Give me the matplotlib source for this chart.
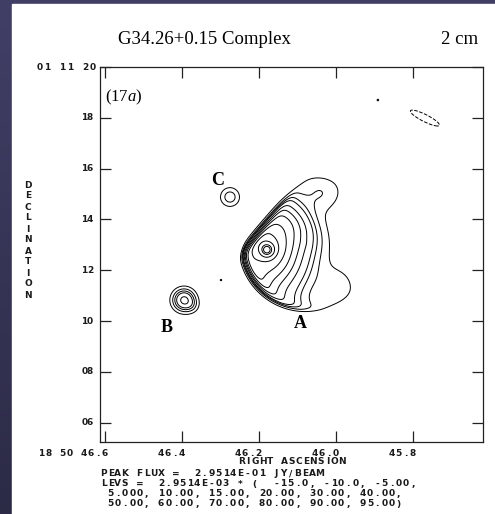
import numpy as np
import matplotlib.pyplot as plt
from matplotlib.colors import LinearSegmentedColormap
from matplotlib.patches import Rectangle
from matplotlib.transforms import offset_copy, blended_transform_factory

plt.rcParams["mathtext.fontset"] = "custom"
plt.rcParams["mathtext.rm"] = "Liberation Serif"
plt.rcParams["mathtext.it"] = "Liberation Serif:italic"

W, H = 495, 514

# map header values
peak_flux = 2.9514e-01
lev_unit = 2.9514e-03
levs = [-15.0, -10.0, -5.0, 5.0, 10.0, 15.0, 20.0, 30.0, 40.0, 50.0, 60.0, 70.0, 80.0, 90.0, 95.0]

ra_ticks = [46.6, 46.4, 46.2, 46.0, 45.8]
ra_labels = ["18 50 46.6", "46.4", "46.2", "46.0", "45.8"]
dec_ticks = [20, 18, 16, 14, 12, 10, 8, 6]
dec_labels = ["01 11 20", "18", "16", "14", "12", "10", "08", "06"]

# source A: gaussian pieces inside the shell (RA s, Dec arcsec, amp, sigmas arcsec, angle deg)
a_ra = [46.1662, 46.1792, 46.1195, 46.0364, 45.9974]
a_dec = [12.795, 12.795, 14.016, 15.079, 11.417]
a_amp = [0.75, 0.30, 0.20, 0.10, 0.08]
a_smaj = [0.95, 0.20, 0.80, 0.55, 0.50]
a_smin = [1.15, 0.20, 0.45, 0.50, 0.50]
a_ang = [0, 0, 135, 0, 0]

# bright shell along the front of A
shell_amp = 0.55
shell_decay = 0.45
shell_dir = 205.0
shell_kappa = 2.5

# compact sources, fraction of the map peak
pt_ra = [46.3948, 46.3740, 46.2753, 46.2987, 45.8910, 45.7690]
pt_dec = [10.827, 10.600, 14.882, 11.614, 18.700, 17.990]
pt_amp = [0.33, 0.05, 0.133, 0.056, 0.056, -0.07]
pt_smaj = [0.284, 0.20, 0.264, 0.06, 0.08, 0.77]
pt_smin = [0.284, 0.20, 0.264, 0.06, 0.08, 0.17]
pt_ang = [0, 0, 0, 0, 0, 153]

# ionisation front of A: straight north-east edge plus curved south-east edge
edge_ra = [46.0935, 46.2260]
edge_dec = [15.472, 12.992]
arc_ra, arc_dec, arc_r = 46.0623, 13.110, 2.68
front_width = 0.08

src_names = ["A", "B", "C"]
src_ra = [46.0935, 46.4390, 46.3065]
src_dec = [9.92, 9.764, 15.551]

RA_SCALE = 15.0 * np.cos(np.radians(1.19))

ra = np.linspace(46.63, 45.60, 800)
dec = np.linspace(5.1, 20.1, 800)
RA, DEC = np.meshgrid(ra, dec)


def gauss_sum(ras, decs, amps, smaj, smin, angs):
    out = np.zeros_like(RA)
    for i in range(len(ras)):
        dx = -(RA - ras[i]) * RA_SCALE
        dy = DEC - decs[i]
        a = np.radians(angs[i])
        u = dx * np.cos(a) + dy * np.sin(a)
        v = -dx * np.sin(a) + dy * np.cos(a)
        out += amps[i] * np.exp(-0.5 * ((u / smaj[i]) ** 2 + (v / smin[i]) ** 2))
    return out


def sigmoid(d):
    return 1.0 / (1.0 + np.exp(-d / front_width))


# plane coordinates in arcsec, x growing to the west (right)
PX = -RA * RA_SCALE
PY = DEC
x0, y0 = -edge_ra[0] * RA_SCALE, edge_dec[0]
x1, y1 = -edge_ra[1] * RA_SCALE, edge_dec[1]
ln = np.hypot(x1 - x0, y1 - y0)
cross = ((x1 - x0) * (PY - y0) - (y1 - y0) * (PX - x0)) / ln
pk_x, pk_y = -a_ra[0] * RA_SCALE, a_dec[0]
sgn = np.sign((x1 - x0) * (pk_y - y0) - (y1 - y0) * (pk_x - x0))
d_line = sgn * cross
cx, cy = -arc_ra * RA_SCALE, arc_dec
d_arc = arc_r - np.hypot(PX - cx, PY - cy)
mask = sigmoid(d_line) * sigmoid(d_arc)

# depth behind the front (soft minimum of both edges)
s = 0.1
depth = np.maximum(-s * np.logaddexp(-d_line / s, -d_arc / s), 0.0)
theta = np.arctan2(PY - cy, PX - cx)
along = np.exp(shell_kappa * (np.cos(theta - np.radians(shell_dir)) - 1))
shell = shell_amp * along * np.exp(-depth / shell_decay)

src_a = (shell + gauss_sum(a_ra, a_dec, a_amp, a_smaj, a_smin, a_ang)) * mask
src_a = src_a / src_a.max()
field = (src_a + gauss_sum(pt_ra, pt_dec, pt_amp, pt_smaj, pt_smin, pt_ang)) * peak_flux

fig = plt.figure(figsize=(W / 100, H / 100), dpi=100)

bg = fig.add_axes([0, 0, 1, 1])
bg.axis("off")
slide = LinearSegmentedColormap.from_list("slide", ["#413f66", "#2c2b46"])
bg.imshow(np.linspace(0, 1, 256)[:, None], aspect="auto", cmap=slide, extent=[0, 1, 0, 1])
bg.add_patch(Rectangle((12 / W, 0), 1 - 12 / W, 1 - 4 / H, color="white", transform=bg.transAxes))
bg.set_xlim(0, 1)
bg.set_ylim(0, 1)

ax = fig.add_axes([100 / W, 1 - 442 / H, 383 / W, 375 / H])
ax.set_xlim(46.613, 45.618)
ax.set_ylim(5.24, 20.0)

lv = np.array(levs) * lev_unit
ax.contour(RA, DEC, field, levels=lv[lv < 0], colors="black", linewidths=0.7, linestyles="dashed")
ax.contour(RA, DEC, field, levels=lv[lv > 0], colors="black", linewidths=0.7, linestyles="solid")

ax.set_xticks(ra_ticks)
ax.set_yticks(dec_ticks)
ax.set_xticklabels([])
ax.set_yticklabels([])
ax.tick_params(direction="in", length=8, width=0.9, top=True, right=True, color="#222222")
for sp in ax.spines.values():
    sp.set_linewidth(0.9)
    sp.set_color("#222222")


def pix(x, y):
    return x / W, 1 - y / H


def pitch_text(x, y, s, trans, step=7.2, align="left", dx=0.0, dy=0.0, size=6.5):
    # old plotter lettering: every character on a fixed pitch
    n = len(s)
    if align == "right":
        x0 = -(n - 1) * step
    elif align == "center":
        x0 = -(n - 1) * step / 2
    else:
        x0 = 0.0
    for i, ch in enumerate(s):
        if ch == " ":
            continue
        t = offset_copy(trans, fig=fig, x=dx + x0 + i * step, y=dy, units="dots")
        fig.text(x, y, ch, transform=t, ha="center", va="center",
                 fontsize=size, fontweight="bold", family="DejaVu Sans", color="#1a1a1a")


xtr = blended_transform_factory(ax.transData, ax.transAxes)
for v, lab in zip(ra_ticks, ra_labels):
    pitch_text(v, 0, lab, xtr, step=7.0, align="right", dx=-0.5, dy=-11)
ytr = blended_transform_factory(ax.transAxes, ax.transData)
for v, lab in zip(dec_ticks, dec_labels):
    if len(lab) > 2:
        pitch_text(0, v, lab, ytr, step=7.6, align="right", dx=-7, dy=0)
    else:
        pitch_text(0, v, lab, ytr, step=5.6, align="right", dx=-10, dy=0)

pitch_text(0.5, 0, "RIGHT ASCENSION", ax.transAxes, step=7.2, align="center", dy=-20)
for i, ch in enumerate("DECLINATION"):
    fig.text(*pix(28, 185 + i * 11), ch, ha="center", va="center",
             fontsize=6.5, fontweight="bold", family="DejaVu Sans", color="#1a1a1a")

notes = [
    "PEAK FLUX =  2.9514E-01 JY/BEAM",
    "LEVS =  2.9514E-03 * (  -15.0, -10.0, -5.00,",
    " 5.000, 10.00, 15.00, 20.00, 30.00, 40.00,",
    " 50.00, 60.00, 70.00, 80.00, 90.00, 95.00)",
]
for k, line in enumerate(notes):
    pitch_text(*pix(103.5, 474 + k * 10), line, fig.transFigure, step=7.2)

fig.text(*pix(118, 40), "G34.26+0.15 Complex", ha="left", va="center",
         fontsize=13.5, family="Liberation Serif")
fig.text(*pix(478, 40), "2 cm", ha="right", va="center",
         fontsize=13.5, family="Liberation Serif")

ax.text(0.013, 0.92, r"(17$\it{a}$)", transform=ax.transAxes, ha="left", va="center",
        fontsize=12, family="Liberation Serif")

for name, x, y in zip(src_names, src_ra, src_dec):
    ax.text(x, y, name, ha="center", va="center", fontsize=13,
            fontweight="bold", family="Liberation Serif")

fig.savefig("out.png", dpi=100)
